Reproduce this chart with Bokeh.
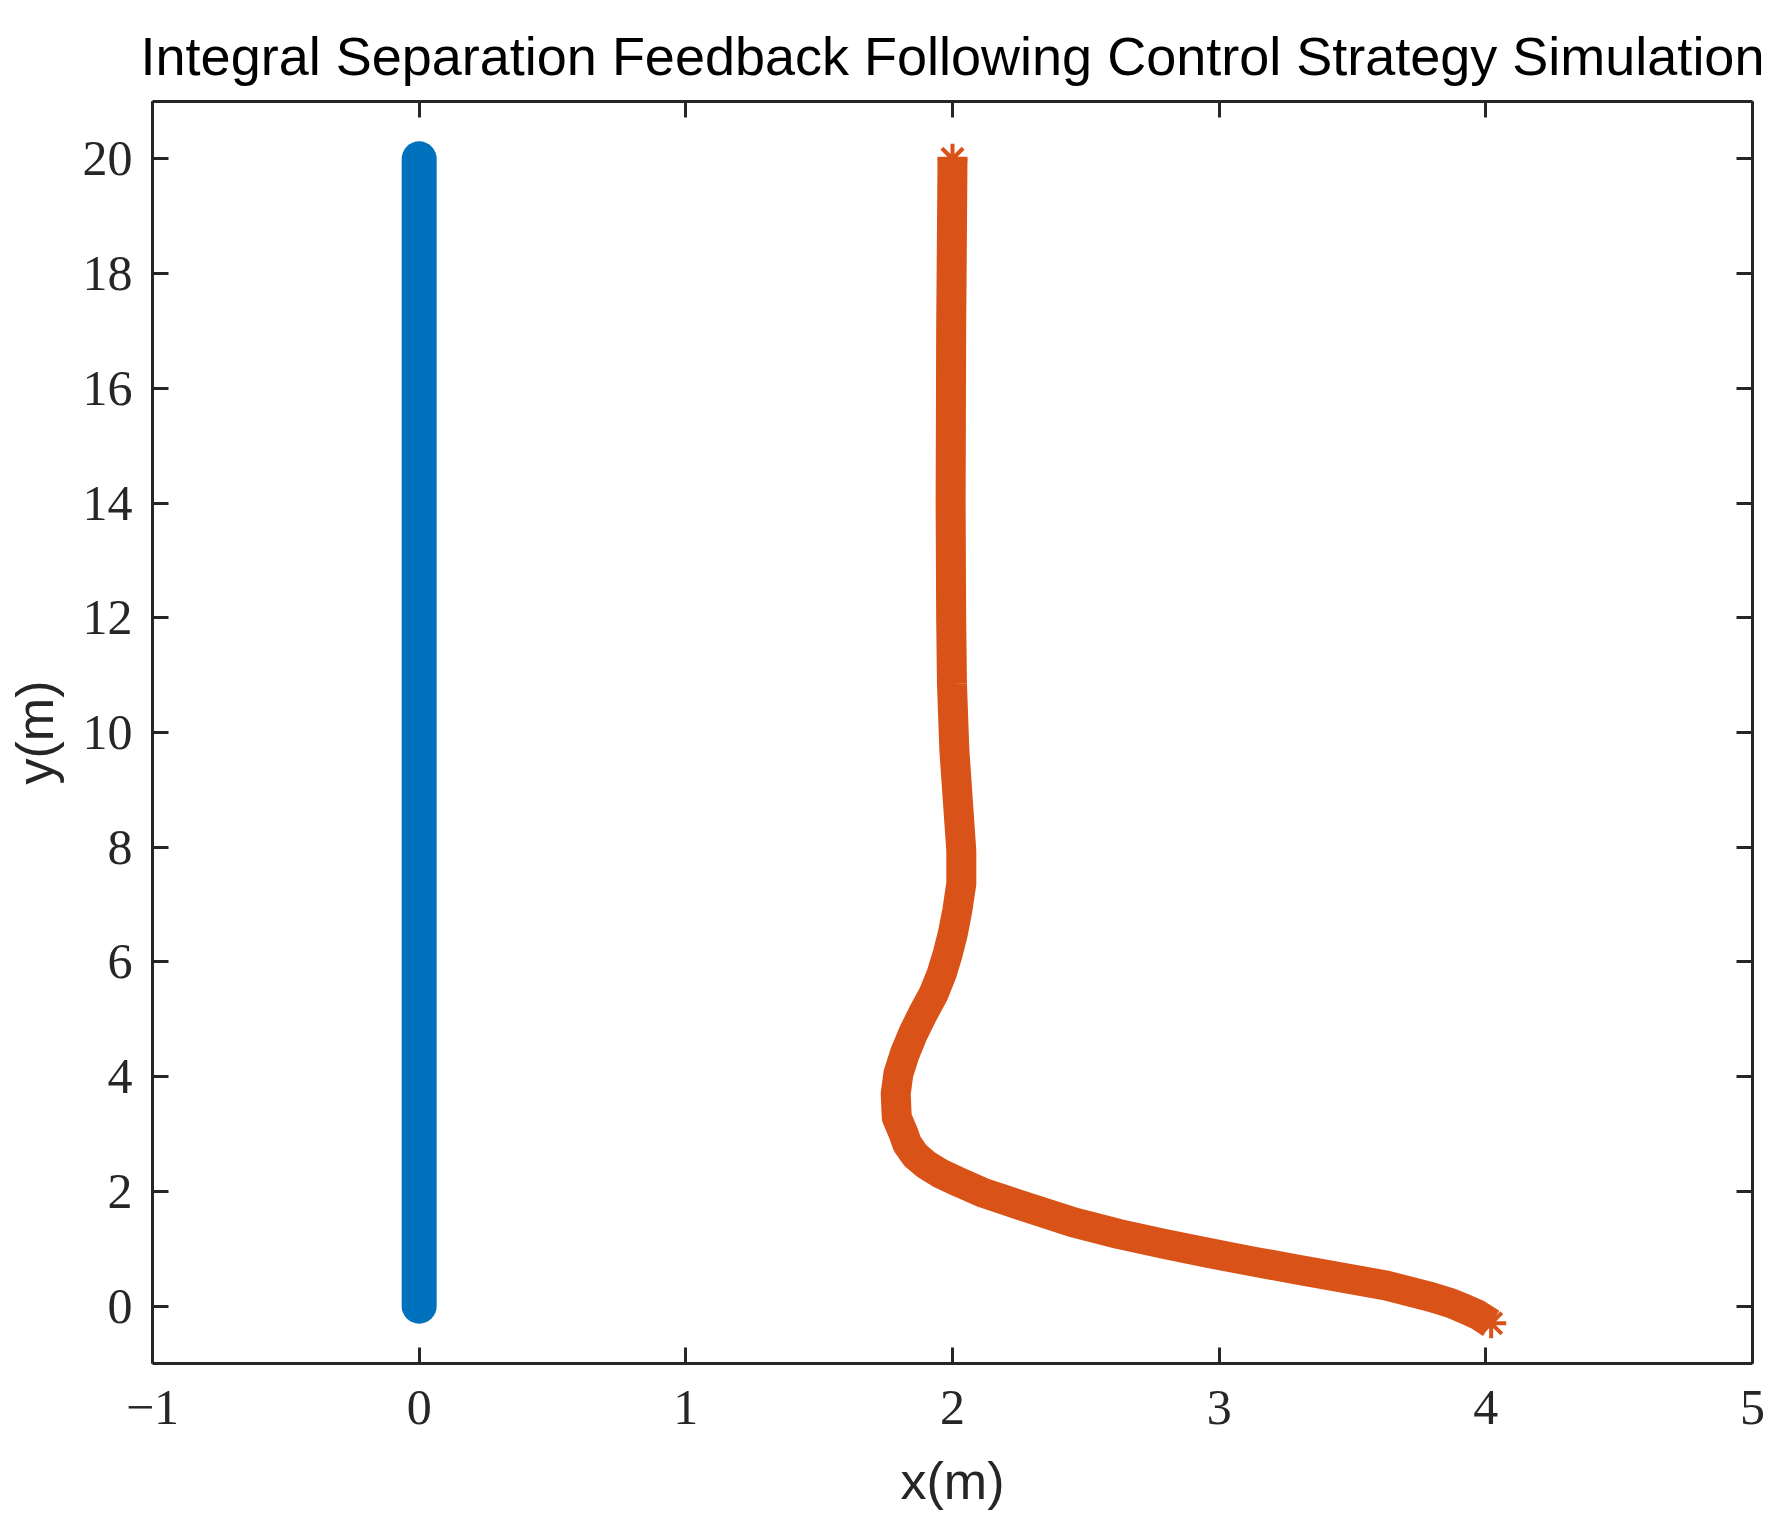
import math
from bokeh.plotting import figure
from bokeh.models import Range1d, FixedTicker, LinearAxis
from bokeh.embed import file_html
from bokeh.resources import INLINE

# ---- data ----
leader_x = [0.0, 0.0]
leader_y = [0.0, 20.0]

follower_x = [2.00, 1.995, 1.993, 1.995, 1.998, 2.007, 2.020, 2.033, 2.033, 2.018,
              2.001, 1.982, 1.959, 1.929, 1.889, 1.852, 1.821, 1.797, 1.787, 1.791,
              1.817, 1.83, 1.86, 1.90, 1.952, 2.03, 2.119, 2.287, 2.454, 2.622,
              2.789, 2.957, 3.124, 3.291, 3.459, 3.626, 3.794, 3.87, 3.927, 3.97, 4.02]
follower_y = [20.0, 17.0, 14.0, 12.0, 10.85, 9.69, 8.815, 7.94, 7.363, 6.897,
              6.49, 6.14, 5.79, 5.445, 5.10, 4.75, 4.40, 4.05, 3.70, 3.29,
              3.00, 2.83, 2.63, 2.47, 2.32, 2.15, 1.97, 1.71, 1.46, 1.26,
              1.09, 0.93, 0.78, 0.64, 0.50, 0.36, 0.16, 0.05, -0.06, -0.15, -0.30]

x_ticks = [-1, 0, 1, 2, 3, 4, 5]
y_ticks = [0, 2, 4, 6, 8, 10, 12, 14, 16, 18, 20]

title_text = "Integral Separation Feedback Following Control Strategy Simulation"
x_label = "x(m)"
y_label = "y(m)"

BLUE = "#0072BD"
ORANGE = "#D95319"
AX = "#262626"

p = figure(frame_width=1600, frame_height=1262,
           x_range=Range1d(-1, 5), y_range=Range1d(-1, 21),
           output_backend="svg", toolbar_location=None,
           min_border_left=152, min_border_right=40,
           min_border_top=101, min_border_bottom=162,
           title=title_text)
p.background_fill_color = "white"
p.border_fill_color = "white"
p.outline_line_color = None
p.xgrid.visible = False
p.ygrid.visible = False

p.title.align = "center"
p.title.text_font = "Liberation Sans"
p.title.text_font_size = "54px"
p.title.text_font_style = "normal"
p.title.text_color = "black"
p.title.standoff = 31

def style_axis(ax, ticks, show_labels, standoff):
    ax.ticker = FixedTicker(ticks=ticks)
    ax.axis_line_color = AX
    ax.axis_line_width = 3
    ax.major_tick_line_color = AX
    ax.major_tick_line_width = 3
    ax.major_tick_in = 16
    ax.major_tick_out = 0
    ax.minor_tick_line_color = None
    ax.major_label_standoff = standoff
    if show_labels:
        ax.major_label_text_font = "Liberation Serif"
        ax.major_label_text_font_size = "50px"
        ax.major_label_text_color = AX
        ax.axis_label_text_font = "Liberation Sans"
        ax.axis_label_text_font_size = "52px"
        ax.axis_label_text_font_style = "normal"
        ax.axis_label_text_color = AX
    else:
        ax.major_label_text_font_size = "0px"
        ax.major_label_standoff = 0

style_axis(p.xaxis[0], x_ticks, True, 27)
style_axis(p.yaxis[0], y_ticks, True, 20)
p.xaxis[0].axis_label = x_label
p.xaxis[0].axis_label_standoff = 25
p.yaxis[0].axis_label = y_label
p.yaxis[0].axis_label_standoff = 16

right = LinearAxis()
style_axis(right, y_ticks, False, 0)
p.add_layout(right, "right")
top = LinearAxis()
style_axis(top, x_ticks, False, 0)
p.add_layout(top, "above")

# ---- series ----
p.line(leader_x, leader_y, line_color=BLUE, line_width=35, line_cap="round")
p.line(follower_x, follower_y, line_color=ORANGE, line_width=30,
       line_join="round", line_cap="butt")
p.scatter([follower_x[0], follower_x[-1]], [follower_y[0], follower_y[-1]],
          marker="asterisk", size=30, line_color=ORANGE, line_width=4)

open("out.html", "w").write(file_html(p, INLINE))
